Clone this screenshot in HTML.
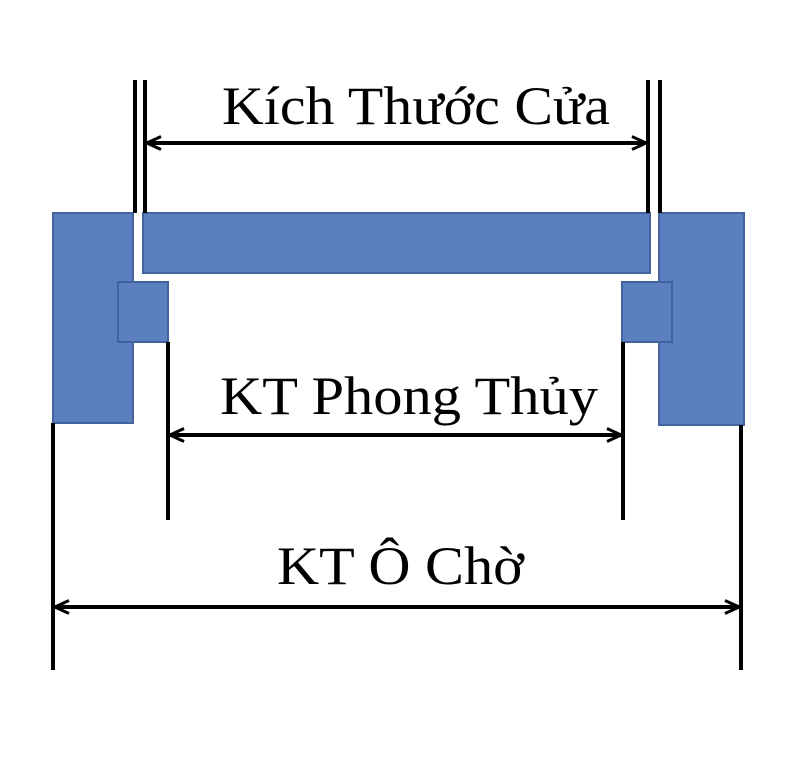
<!DOCTYPE html>
<html><head><meta charset="utf-8"><style>html,body{margin:0;padding:0;background:#fff}svg{display:block}</style></head>
<body>
<svg width="800" height="772" viewBox="0 0 800 772" xmlns="http://www.w3.org/2000/svg">
<defs>
<marker id="a" viewBox="0 0 16 16" refX="15" refY="8" markerWidth="16" markerHeight="16" markerUnits="userSpaceOnUse" orient="auto-start-reverse">
<path d="M1,1.5 L15,8 L1,14.5" fill="none" stroke="#000" stroke-width="3"/>
</marker>
</defs>
<g fill="#5b7fbf" stroke="#41649e" stroke-width="2">
<polygon points="53,213 133,213 133,282 118,282 118,342 133,342 133,423 53,423"/>
<rect x="143" y="213" width="507" height="60"/>
<rect x="118" y="282" width="50" height="60"/>
<polygon points="659,213 744,213 744,425 659,425 659,342 672,342 672,282 659,282"/>
<rect x="622" y="282" width="50" height="60"/>
</g>
<g stroke="#000" stroke-width="4" fill="none">
<line x1="135" y1="80" x2="135" y2="213"/>
<line x1="145" y1="80" x2="145" y2="213"/>
<line x1="648" y1="80" x2="648" y2="213"/>
<line x1="660" y1="80" x2="660" y2="213"/>
<line x1="168" y1="342" x2="168" y2="520"/>
<line x1="623" y1="342" x2="623" y2="520"/>
<line x1="53" y1="423" x2="53" y2="670"/>
<line x1="741" y1="425" x2="741" y2="670"/>
</g>
<g stroke="#000" stroke-width="4">
<line x1="147" y1="143" x2="646" y2="143" marker-start="url(#a)" marker-end="url(#a)"/>
<line x1="170" y1="435" x2="621" y2="435" marker-start="url(#a)" marker-end="url(#a)"/>
<line x1="55" y1="607" x2="739" y2="607" marker-start="url(#a)" marker-end="url(#a)"/>
</g>
<g font-family="Liberation Serif, serif" font-size="54" fill="#000">
<text x="222" y="124" textLength="388" lengthAdjust="spacingAndGlyphs">Kích Thước Cửa</text>
<text x="220" y="414" textLength="378" lengthAdjust="spacingAndGlyphs">KT Phong Thủy</text>
<text x="277" y="584" textLength="247" lengthAdjust="spacingAndGlyphs">KT Ô Chờ</text>
</g>
</svg>
</body></html>
